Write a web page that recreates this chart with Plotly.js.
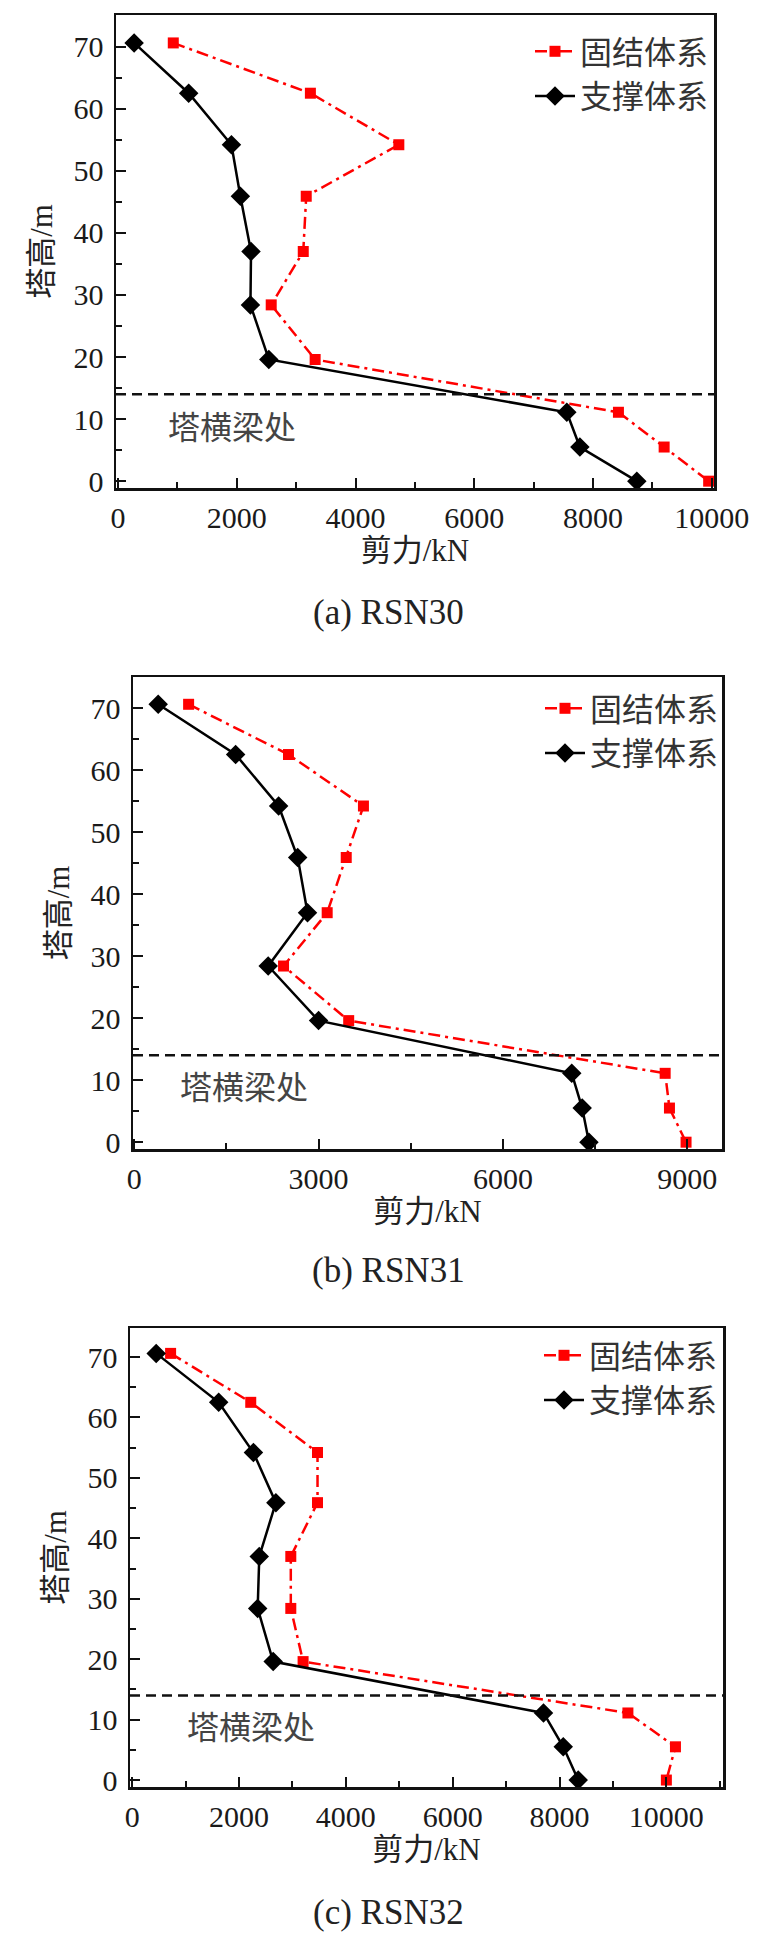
<!DOCTYPE html>
<html>
<head>
<meta charset="utf-8">
<script src="https://cdn.plot.ly/plotly-3.0.1.min.js"></script>
<style>html,body{margin:0;padding:0;background:#fff;}#chart{width:777px;height:1940px;}</style>
</head>
<body>
<div id="chart"></div>
<script>
// Tower heights (m) of the sampled sections, top to bottom
const heights = [70.6, 62.5, 54.2, 45.9, 37.0, 28.4, 19.6, 11.1, 5.5, 0];
// Height of the tower cross-beam (dashed line)
const beamHeight = 14;

// (a) RSN30 shear force (kN)
const fixedA  = [930, 3240, 4730, 3170, 3120, 2580, 3320, 8430, 9200, 9950];
const bracedA = [270, 1190, 1910, 2060, 2240, 2230, 2540, 7560, 7780, 8740];
// (b) RSN31
const fixedB  = [885, 2510, 3730, 3450, 3140, 2430, 3490, 8640, 8710, 8980];
const bracedB = [390, 1650, 2350, 2660, 2820, 2180, 3000, 7120, 7290, 7400];
// (c) RSN32
const fixedC  = [720, 2220, 3470, 3470, 2970, 2970, 3200, 9280, 10170, 10000];
const bracedC = [450, 1620, 2270, 2690, 2380, 2350, 2640, 7700, 8070, 8350];

const seriesNames = ['固结体系', '支撑体系'];
const captions = ['(a) RSN30', '(b) RSN31', '(c) RSN32'];
const xTitle = '剪力/kN';
const yTitle = '塔高/m';
const beamLabel = '塔横梁处';

const panels = [
  {fixed: fixedA, braced: bracedA, xd: [116/777, 714/777], yd: [1-488/1940, 1-15/1940], xr: [-35, 10040], yr: [-1.1, 75.1], dt: 2000, mdt: 1000, legY: 1-24/1940, legX: 714/777, capY: 1-612/1940, annX: 800, annY: 9.0},
  {fixed: fixedB, braced: bracedB, xd: [133/777, 722/777], yd: [1-1149/1940, 1-677/1940], xr: [-20, 9565], yr: [-1.1, 75.0], dt: 3000, mdt: 1500, legY: 1-681/1940, legX: 724/777, capY: 1-1270/1940, annX: 716, annY: 9.3},
  {fixed: fixedC, braced: bracedC, xd: [130/777, 723/777], yd: [1-1787/1940, 1-1328/1940], xr: [-40, 11060], yr: [-1.15, 74.8], dt: 2000, mdt: 1000, legY: 1-1328/1940, legX: 723/777, capY: 1-1912/1940, annX: 990, annY: 9.1}
];

const serif = 'Liberation Serif, Times New Roman, serif';
const cjk = 'Noto Sans CJK SC, sans-serif';
const mixed = 'Liberation Serif, Noto Sans CJK SC, serif';

const traces = [];
const layout = {
  width: 777, height: 1940,
  margin: {l: 0, r: 0, t: 0, b: 0},
  paper_bgcolor: '#fff', plot_bgcolor: '#fff',
  showlegend: true,
  shapes: [], annotations: []
};

panels.forEach((p, i) => {
  const n = i === 0 ? '' : String(i + 1);
  const xa = 'x' + n, ya = 'y' + n;
  const legName = 'legend' + n;
  traces.push({
    x: p.fixed, y: heights, xaxis: xa, yaxis: ya, name: seriesNames[0], legend: legName,
    type: 'scatter', mode: 'lines+markers',
    line: {color: '#ff0000', width: 2.5, dash: '12px,5px,3px,5px'},
    marker: {symbol: 'square', size: 11, color: '#ff0000'}
  });
  traces.push({
    x: p.braced, y: heights, xaxis: xa, yaxis: ya, name: seriesNames[1], legend: legName,
    type: 'scatter', mode: 'lines+markers',
    line: {color: '#000', width: 2.5},
    marker: {symbol: 'diamond', size: 15, color: '#000'}
  });
  const axCommon = {
    showgrid: false, zeroline: false, showline: true, mirror: true,
    linecolor: '#111', linewidth: 2.5,
    ticks: 'inside', ticklen: 10, tickwidth: 2, tickcolor: '#111',
    tickfont: {family: serif, size: 30, color: '#1a1a1a'},
    tickformat: 'd',
    automargin: false, fixedrange: true
  };
  layout['xaxis' + n] = Object.assign({}, axCommon, {
    domain: p.xd, anchor: ya, range: p.xr, tick0: 0, dtick: p.dt,
    minor: {dtick: p.mdt, ticks: 'inside', ticklen: 6, tickwidth: 2, tickcolor: '#111'},
    ticklabelstandoff: 1,
    title: {text: xTitle, font: {family: mixed, size: 31, color: '#222'}, standoff: 4}
  });
  layout['yaxis' + n] = Object.assign({}, axCommon, {
    domain: p.yd, anchor: xa, range: p.yr, tick0: 0, dtick: 10,
    minor: {dtick: 5, ticks: 'inside', ticklen: 6, tickwidth: 2, tickcolor: '#111'},
    ticklabelstandoff: 4,
    title: {text: yTitle, font: {family: mixed, size: 31, color: '#222'}, standoff: 12}
  });
  layout[legName] = {
    x: p.legX, xanchor: 'right', y: p.legY, yanchor: 'top',
    bgcolor: 'rgba(0,0,0,0)', borderwidth: 0,
    font: {family: cjk, size: 32, color: '#333'},
    itemwidth: 40, tracegroupgap: 0
  };
  layout.shapes.push({
    type: 'line', xref: xa + ' domain', yref: ya, x0: 0, x1: 1, y0: beamHeight, y1: beamHeight,
    line: {color: '#111', width: 2.5, dash: '10px,6px'}
  });
  layout.annotations.push({
    xref: xa, yref: ya, x: p.annX, y: p.annY, xanchor: 'left', yanchor: 'middle',
    text: beamLabel, showarrow: false, font: {family: cjk, size: 32, color: '#444'}
  });
  layout.annotations.push({
    xref: 'paper', yref: 'paper', x: 0.5, y: p.capY, xanchor: 'center', yanchor: 'middle',
    text: captions[i], showarrow: false, font: {family: serif, size: 35, color: '#222'}
  });
});

Plotly.newPlot('chart', traces, layout, {displayModeBar: false, staticPlot: true});
</script>
</body>
</html>
